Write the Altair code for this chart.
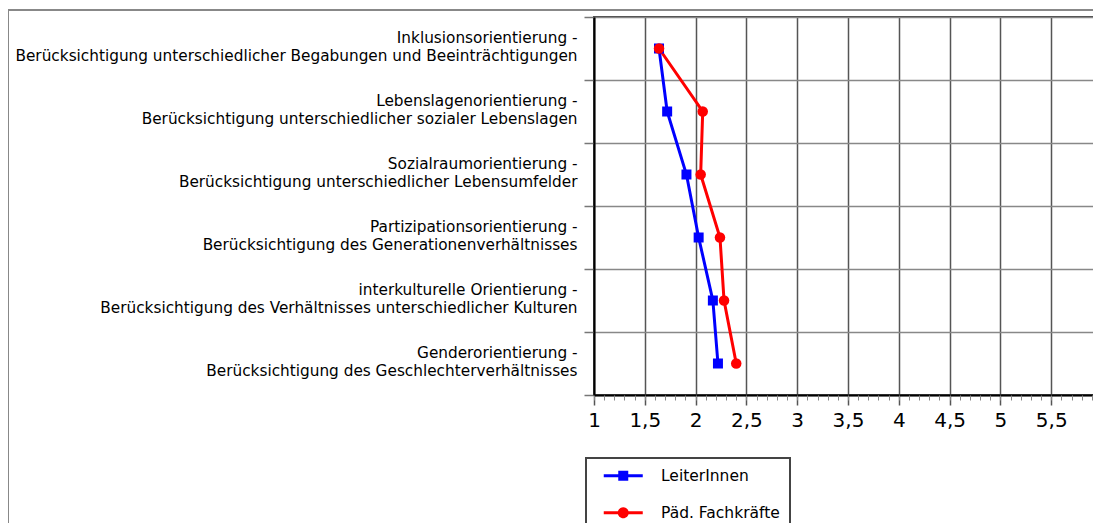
import altair as alt
import pandas as pd

# ---- data ----
dimensions = [
    "Inklusionsorientierung -",
    "Lebenslagenorientierung -",
    "Sozialraumorientierung -",
    "Partizipationsorientierung -",
    "interkulturelle Orientierung -",
    "Genderorientierung -",
]
descriptions = [
    "Berücksichtigung unterschiedlicher Begabungen und Beeinträchtigungen",
    "Berücksichtigung unterschiedlicher sozialer Lebenslagen",
    "Berücksichtigung unterschiedlicher Lebensumfelder",
    "Berücksichtigung des Generationenverhältnisses",
    "Berücksichtigung des Verhältnisses unterschiedlicher Kulturen",
    "Berücksichtigung des Geschlechterverhältnisses",
]
series_names = ["LeiterInnen", "Päd. Fachkräfte"]
leiter_values = [1.64, 1.72, 1.91, 2.03, 2.17, 2.22]
fach_values = [1.64, 2.07, 2.05, 2.24, 2.28, 2.40]
series_colors = ["#0000ff", "#ff0000"]
major_ticks = [1, 1.5, 2, 2.5, 3, 3.5, 4, 4.5, 5, 5.5, 6]
minor_ticks = [round(1 + i * 0.1, 1) for i in range(51)]

categories = [d + "\n" + e for d, e in zip(dimensions, descriptions)]

rows = []
for name, vals in zip(series_names, [leiter_values, fach_values]):
    for i, (cat, v) in enumerate(zip(categories, vals)):
        rows.append({"series": name, "category": cat, "value": v, "idx": i})
df = pd.DataFrame(rows)

# ---- scales / axes ----
x_scale = alt.Scale(domain=[1, 6], nice=False, zero=False)
y_scale = alt.Scale(type="band", paddingInner=0, paddingOuter=0)
color_scale = alt.Scale(domain=series_names, range=series_colors)

sq_path = "M-3.9,-0.3H3.9V0.3H-3.9Z M-1,-1H1V1H-1Z"
ci_path = "M-3.9,-0.3H3.9V0.3H-3.9Z M-1.1,0A1.1,1.1 0 1,1 1.1,0A1.1,1.1 0 1,1 -1.1,0Z"
shape_scale = alt.Scale(domain=series_names, range=[sq_path, ci_path])

major_axis = alt.Axis(
    values=major_ticks, orient="bottom", title=None,
    labelExpr="replace(format(datum.value, '.1~f'), '.', ',')",
    labelFontSize=20, labelColor="black", labelPadding=5,
    labelOverlap=False, labelFlush=False,
    tickSize=10, tickColor="#555", tickWidth=1.5,
    grid=True, gridColor="#555", gridWidth=1.5,
    domainColor="black", domainWidth=2,
)
minor_axis = alt.Axis(
    values=minor_ticks, orient="bottom", title=None,
    labels=False, domain=False, grid=False,
    tickSize=5, tickColor="#888", tickWidth=1,
)
y_axis = alt.Axis(
    title=None, tickBand="extent", tickSize=10, tickColor="#777", tickWidth=1.5,
    labelPadding=7, labelLimit=800, labelFontSize=15.3, labelLineHeight=18,
    labelOffset=-11,
    labelExpr="split(datum.label, '\\n')", labelColor="black",
    labelAlign="right", labelBaseline="middle",
    grid=True, gridColor="#888", gridWidth=1.5,
    domainColor="black", domainWidth=2,
)


def y_enc():
    return alt.Y("category:N", sort=categories, scale=y_scale, axis=y_axis)


base = alt.Chart(df)
blue = base.transform_filter(alt.datum.series == series_names[0])
red = base.transform_filter(alt.datum.series == series_names[1])

line_blue = blue.mark_line(strokeWidth=3, color=series_colors[0]).encode(
    x=alt.X("value:Q", scale=x_scale, axis=major_axis),
    y=y_enc(),
    order=alt.Order("idx:Q"),
)
line_red = red.mark_line(strokeWidth=3, color=series_colors[1]).encode(
    x=alt.X("value:Q", scale=x_scale, axis=None),
    y=y_enc(),
    order=alt.Order("idx:Q"),
)
squares = blue.mark_square(size=100, opacity=1, color=series_colors[0]).encode(
    x=alt.X("value:Q", scale=x_scale, axis=None),
    y=y_enc(),
)
circles = red.mark_circle(size=110, opacity=1, color=series_colors[1]).encode(
    x=alt.X("value:Q", scale=x_scale, axis=None),
    y=y_enc(),
)
leg = dict(title=None, orient="none", legendX=-8, legendY=441)
legend_layer = base.mark_point(filled=True, opacity=0).encode(
    x=alt.X("value:Q", scale=x_scale, axis=minor_axis),
    y=y_enc(),
    color=alt.Color("series:N", scale=color_scale, legend=alt.Legend(**leg)),
    shape=alt.Shape("series:N", scale=shape_scale, legend=alt.Legend(**leg)),
)

frame_src = alt.Chart(pd.DataFrame({"k": [0]}))
frame_v = frame_src.mark_rule(color="#888", strokeWidth=2).encode(
    x=alt.value(-586), y=alt.value(-7), y2=alt.value(520)
)
frame_h = frame_src.mark_rule(color="#888", strokeWidth=2).encode(
    x=alt.value(-586), x2=alt.value(520), y=alt.value(-7)
)

chart = (
    alt.layer(frame_v, frame_h, line_blue, line_red, squares, circles, legend_layer)
    .resolve_axis(x="independent")
    .properties(
        width=508, height=378,
        padding={"left": 586, "top": 9, "right": -9, "bottom": 128},
        autosize=alt.AutoSizeParams(type="none"),
    )
    .configure(font="DejaVu Sans")
    .configure_view(stroke="#444", strokeWidth=2)
    .configure_legend(
        padding=10, strokeColor="#444", strokeWidth=2, fillColor="white",
        symbolSize=100, symbolOffset=19.5, labelOffset=30, rowPadding=20,
        labelFontSize=15.5, labelColor="black", labelLimit=400,
        symbolOpacity=1, symbolStrokeWidth=0,
    )
)

chart.save("out.html", embed_options={"renderer": "svg", "actions": False})
